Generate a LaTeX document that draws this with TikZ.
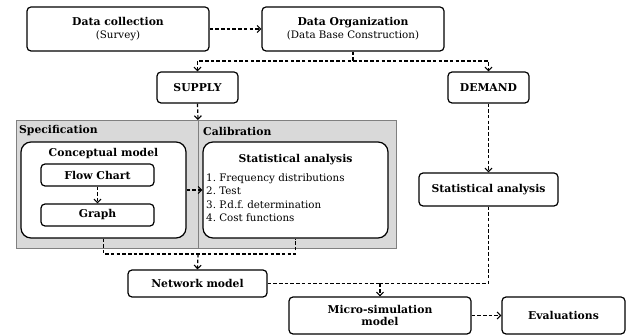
\documentclass[tikz,border=0pt]{standalone}
\usepackage{fontspec}
\setmainfont{DejaVu Serif}
\usetikzlibrary{arrows.meta,positioning}
\tikzset{
  bf/.style={font=\bfseries\fontsize{10.8}{12}\selectfont},
  rm/.style={font=\fontsize{10.3}{12}\selectfont},
  box/.style={draw=black,line width=1.2pt,rounded corners=4pt,fill=white,inner sep=0pt,align=center,bf},
  bigbox/.style={box,rounded corners=10pt},
  conn/.style={line width=1.2pt,dash pattern=on 3.5pt off 2.2pt},
  arr/.style={conn,-{Straight Barb[length=3.5pt,width=7pt,line width=1.1pt]}},
  lbl/.style={inner sep=0pt,anchor=west,bf},
}
\begin{document}
\begin{tikzpicture}[x=1pt,y=-1pt]
\useasboundingbox (0,0) rectangle (629,336);
% grey panel
\node[draw=gray,fill=black!15,line width=0.6pt,minimum width=380pt,minimum height=128pt,inner sep=0pt] (panel) at (206,184) {};
\coordinate (divtop) at (198,120);
\coordinate (divbot) at (198,248);
\draw[gray,line width=0.6pt] (divtop) -- (divbot);
\node[lbl] (spec) at (19,131) {Specification};
\node[lbl] (calib) at (203,131) {Calibration};

\node[box,minimum width=182pt,minimum height=44pt] (dc) at (118,29) {Data collection\\[1pt]{\mdseries\fontsize{10.3}{12}\selectfont(Survey)}};
\node[box,minimum width=182pt,minimum height=44pt] (dorg) at (353,29) {Data Organization\\[1pt]{\mdseries\fontsize{10.3}{12}\selectfont(Data Base Construction)}};
\node[box,minimum width=81pt,minimum height=31pt] (supply) at (197.5,87.5) {SUPPLY};
\node[box,minimum width=81pt,minimum height=31pt] (demand) at (488.5,87.5) {DEMAND};

\node[bigbox,minimum width=165pt,minimum height=96pt] (concept) at (103.5,190) {};
\node[inner sep=0pt,bf] (ctitle) at (103.5,154) {Conceptual model};
\node[box,minimum width=113pt,minimum height=22pt] (flow) at (97.5,175) {Flow Chart};
\node[box,minimum width=113pt,minimum height=22pt] (graph) at (97.5,215) {Graph};

\node[bigbox,minimum width=185pt,minimum height=96pt] (stat1) at (295.5,190) {};
\node[inner sep=0pt,bf] (stitle) at (295.5,160) {Statistical analysis};
\node[inner sep=0pt,anchor=north west,align=left,font=\fontsize{10.3}{13.5}\selectfont] (slist) at (206,173) {1.\ Frequency distributions\\2.\ Test\\3.\ P.d.f.\ determination\\4.\ Cost functions};

\node[box,minimum width=139pt,minimum height=33pt] (stat2) at (488.5,189.5) {Statistical analysis};
\node[box,minimum width=139pt,minimum height=27pt] (network) at (197.5,283.5) {Network model};
\node[box,minimum width=182pt,minimum height=37pt] (micro) at (380,315.5) {Micro-simulation\\model};
\node[box,minimum width=123pt,minimum height=37pt] (eval) at (563.5,315.5) {Evaluations};

% connectors
\draw[arr] (dc.east) -- (dorg.west);
\coordinate (split) at (353,61);
\draw[arr] (dorg.south) -- (split) -| (supply.north);
\draw[arr] (split) -| (demand.north);
\draw[arr] (supply.south) -- (divtop);
\draw[arr] (flow.south) -- (graph.north);
\draw[arr] (concept.east) -- (stat1.west);
\draw[arr] (demand.south) -- (stat2.north);
\coordinate (j1) at (198,254);
\draw[conn] (concept.south) |- (j1) -| (stat1.south);
\draw[arr] (j1) -- (network.north);
\coordinate (j2) at (380,283.5);
\draw[conn] (stat2.south) |- (j2);
\draw[conn] (network.east) -- (j2);
\draw[arr] (j2) -- (micro.north);
\draw[arr] (micro.east) -- (eval.west);
\end{tikzpicture}
\end{document}
